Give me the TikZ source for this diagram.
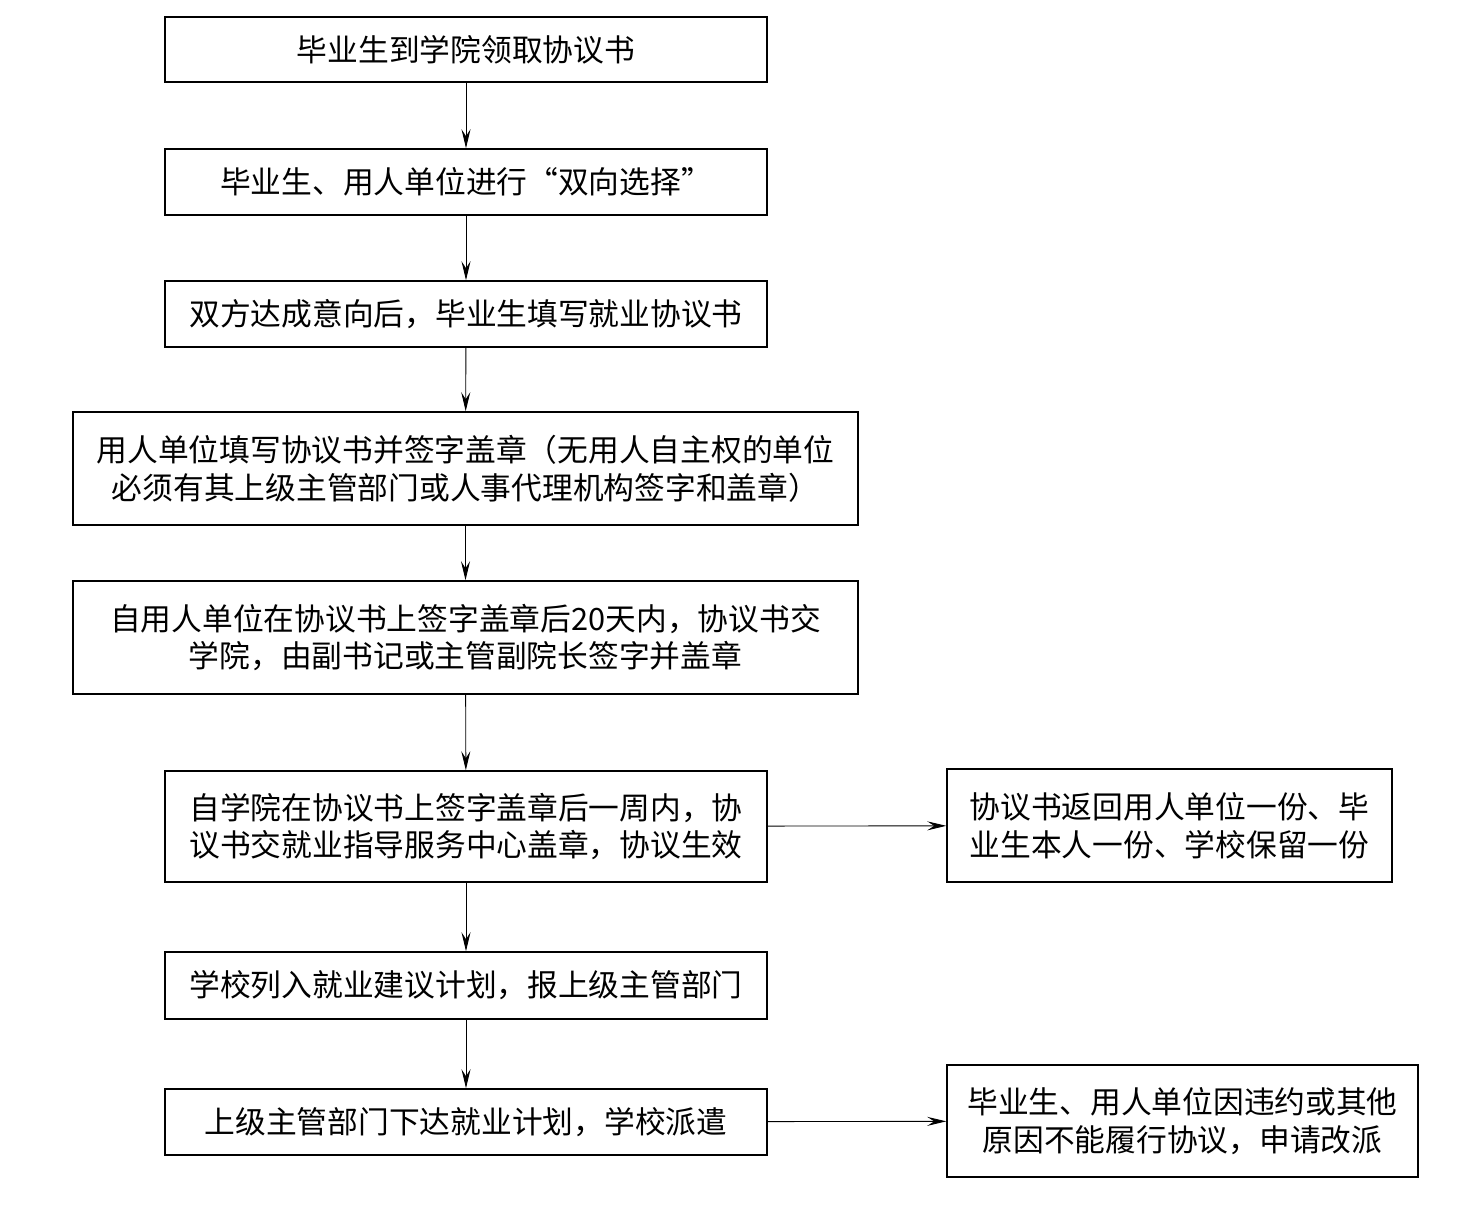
\documentclass[tikz,border=0pt]{standalone}
\usepackage{fontspec}
\setmainfont{Noto Sans CJK SC}
\usepackage{tikz}
\usetikzlibrary{arrows.meta,positioning}

\begin{document}
\begin{tikzpicture}[x=0.02cm,y=-0.02cm,
    box/.style={draw,line width=0.9pt,align=center,inner sep=0pt,
        font=\fontsize{17.5}{21.5}\selectfont},
    arr/.style={line width=0.5pt,-{Stealth[length=3.8mm,width=1.8mm,inset=1.4mm]}}]
    \useasboundingbox (0,0) rectangle (1460,1214);
    % Main column
    \node[box,minimum width=12.04cm,minimum height=1.3cm] (lingqu) at (466,49.5)
        {毕业生到学院领取协议书};
    \node[box,minimum width=12.04cm,minimum height=1.32cm] (xuanze) at (466,182)
        {毕业生、用人单位进行“双向选择”};
    \node[box,minimum width=12.04cm,minimum height=1.32cm] (tianxie) at (466,314)
        {双方达成意向后，毕业生填写就业协议书};
    \node[box,minimum width=15.7cm,minimum height=2.26cm] (qianzi) at (465.5,468.5)
        {用人单位填写协议书并签字盖章（无用人自主权的单位\\必须有其上级主管部门或人事代理机构签字和盖章）};
    \node[box,minimum width=15.7cm,minimum height=2.26cm] (xueyuan) at (465.5,637.5)
        {自用人单位在协议书上签字盖章后20天内，协议书交\\学院，由副书记或主管副院长签字并盖章};
    \node[box,minimum width=12.04cm,minimum height=2.22cm] (shengxiao) at (466,826.5)
        {自学院在协议书上签字盖章后一周内，协\\议书交就业指导服务中心盖章，协议生效};
    \node[box,minimum width=12.04cm,minimum height=1.34cm] (jihua) at (466,985.5)
        {学校列入就业建议计划，报上级主管部门};
    \node[box,minimum width=12.04cm,minimum height=1.32cm] (paiqian) at (466,1122)
        {上级主管部门下达就业计划，学校派遣};
    % Side boxes
    \node[box,minimum width=8.9cm,minimum height=2.26cm] (fanhui) at (1169.5,825.5)
        {协议书返回用人单位一份、毕\\业生本人一份、学校保留一份};
    \node[box,minimum width=9.42cm,minimum height=2.24cm] (gaipai) at (1182.5,1121)
        {毕业生、用人单位因违约或其他\\原因不能履行协议，申请改派};
    % Arrows
    \draw[arr] (lingqu) -- (xuanze);
    \draw[arr] (xuanze) -- (tianxie);
    \draw[arr] (tianxie) -- (qianzi);
    \draw[arr] (qianzi) -- (xueyuan);
    \draw[arr] (xueyuan) -- (shengxiao);
    \draw[arr] (shengxiao) -- (jihua);
    \draw[arr] (jihua) -- (paiqian);
    \draw[arr] (shengxiao) -- (fanhui);
    \draw[arr] (paiqian) -- (gaipai);
\end{tikzpicture}
\end{document}
